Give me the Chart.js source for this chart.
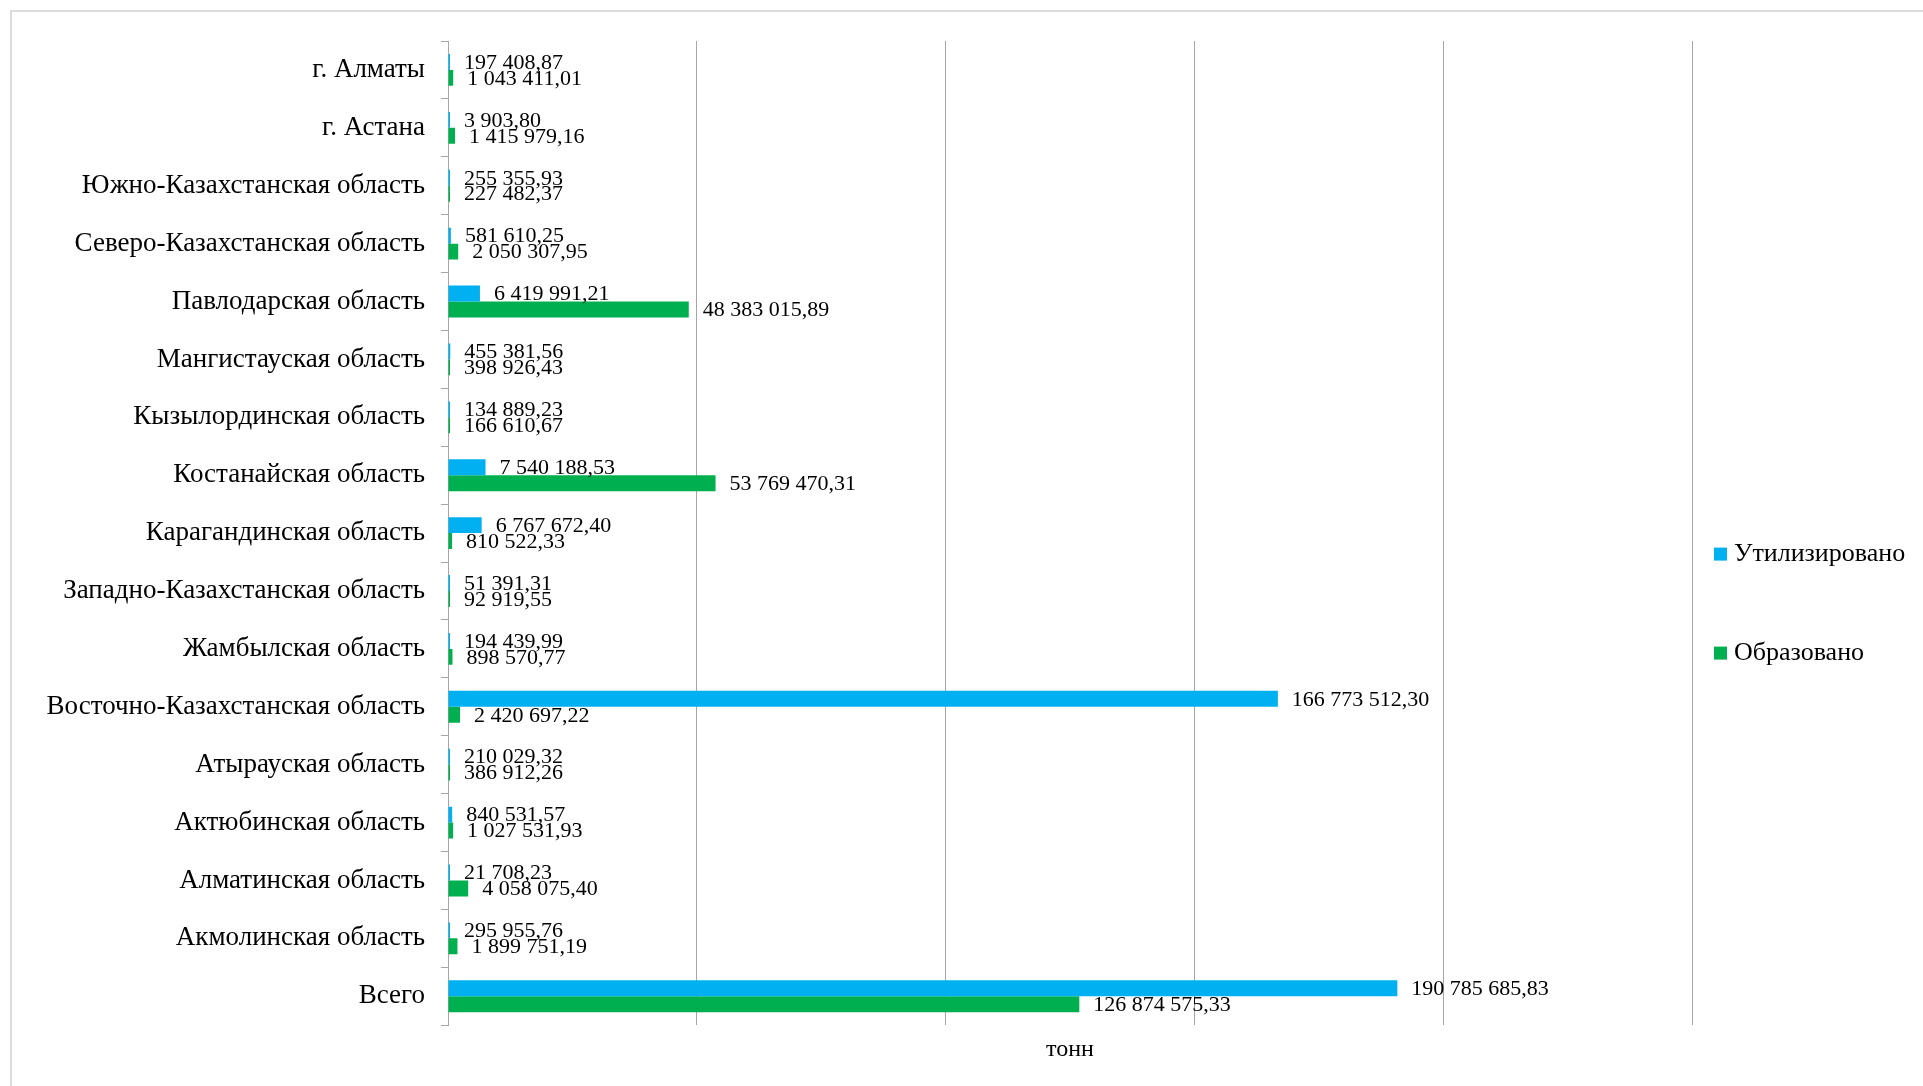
<!DOCTYPE html>
<html>
<head>
<meta charset="utf-8">
<script src="https://cdn.jsdelivr.net/npm/chart.js@4"></script>
<style>
  html, body { margin: 0; padding: 0; background: #fff; }
  #wrap { position: relative; width: 1923px; height: 1086px; }
  #frame { position: absolute; left: 10px; top: 10px; right: 0; bottom: 0;
           border-top: 2px solid #dcdcdc; border-left: 2px solid #dcdcdc; }
  canvas { position: absolute; left: 0; top: 0; }
</style>
</head>
<body>
<div id="wrap">
  <div id="frame"></div>
  <canvas id="barChart" width="1923" height="1086"></canvas>
</div>
<script>
const regions = [
    'г. Алматы', 'г. Астана', 'Южно-Казахстанская область', 'Северо-Казахстанская область',
    'Павлодарская область', 'Мангистауская область', 'Кызылординская область', 'Костанайская область',
    'Карагандинская область', 'Западно-Казахстанская область', 'Жамбылская область',
    'Восточно-Казахстанская область', 'Атырауская область', 'Актюбинская область',
    'Алматинская область', 'Акмолинская область', 'Всего'
];

const utilized = [
    197408.87, 3903.80, 255355.93, 581610.25, 6419991.21, 455381.56, 134889.23, 7540188.53,
    6767672.40, 51391.31, 194439.99, 166773512.30, 210029.32, 840531.57, 21708.23, 295955.76,
    190785685.83
];

const formed = [
    1043411.01, 1415979.16, 227482.37, 2050307.95, 48383015.89, 398926.43, 166610.67, 53769470.31,
    810522.33, 92919.55, 898570.77, 2420697.22, 386912.26, 1027531.93, 4058075.40, 1899751.19,
    126874575.33
];

const seriesNames = ['Утилизировано', 'Образовано'];
const axisTitle = 'тонн';

const serif = 'Liberation Serif, "Times New Roman", serif';
const gridGray = '#a6a6a6';

function fmt(v) {
    const parts = v.toFixed(2).split('.');
    return parts[0].replace(/\B(?=(\d{3})+(?!\d))/g, ' ') + ',' + parts[1];
}

// value labels at the end of each bar
const valueLabels = {
    id: 'valueLabels',
    afterDatasetsDraw(chart) {
        const ctx = chart.ctx;
        ctx.save();
        ctx.font = '22px ' + serif;
        ctx.fillStyle = '#000';
        ctx.textAlign = 'left';
        ctx.textBaseline = 'middle';
        chart.data.datasets.forEach((ds, i) => {
            chart.getDatasetMeta(i).data.forEach((bar, j) => {
                ctx.fillText(fmt(ds.data[j]), bar.x + 14, bar.y + 1);
            });
        });
        ctx.restore();
    }
};

// legend on the right, Excel style
const sideLegend = {
    id: 'sideLegend',
    afterDraw(chart) {
        const ctx = chart.ctx;
        const area = chart.chartArea;
        const x = area.right + 22;
        const mid = (area.top + area.bottom) / 2 + 71;
        ctx.save();
        ctx.font = '26px ' + serif;
        ctx.textBaseline = 'middle';
        ctx.textAlign = 'left';
        chart.data.datasets.forEach((ds, i) => {
            const y = mid + (i - 0.5) * 99;
            ctx.fillStyle = ds.backgroundColor;
            ctx.fillRect(x, y - 7, 13, 13);
            ctx.fillStyle = '#000';
            ctx.fillText(ds.label, x + 20, y);
        });
        ctx.restore();
    }
};

const barCtx = document.getElementById('barChart').getContext('2d');
const barChart = new Chart(barCtx, {
    type: 'bar',
    data: {
        labels: regions,
        datasets: [{
            label: seriesNames[0],
            data: utilized,
            backgroundColor: '#00B0F0',
        }, {
            label: seriesNames[1],
            data: formed,
            backgroundColor: '#00B050',
        }]
    },
    options: {
        indexAxis: 'y',
        responsive: false,
        animation: false,
        barPercentage: 1,
        categoryPercentage: 0.55,
        minBarLength: 2,
        layout: {
            padding: { left: 10, top: 41, right: 231, bottom: 22 }
        },
        scales: {
            y: {
                grid: {
                    offset: true,
                    drawOnChartArea: false,
                    tickLength: 7,
                    color: gridGray
                },
                border: { color: gridGray, width: 1 },
                ticks: {
                    color: '#000',
                    padding: 16,
                    font: { family: serif, size: 27 }
                },
                afterFit(scale) {
                    scale.width = 438;
                }
            },
            x: {
                min: 0,
                max: 250000000,
                ticks: { display: false, stepSize: 50000000 },
                grid: { color: gridGray, drawTicks: false },
                border: { display: false },
                title: {
                    display: true,
                    text: axisTitle,
                    color: '#000',
                    padding: { top: 10, bottom: 0 },
                    font: { family: serif, size: 24 }
                }
            }
        },
        plugins: {
            legend: { display: false },
            tooltip: { enabled: false }
        }
    },
    plugins: [valueLabels, sideLegend]
});
</script>
</body>
</html>
